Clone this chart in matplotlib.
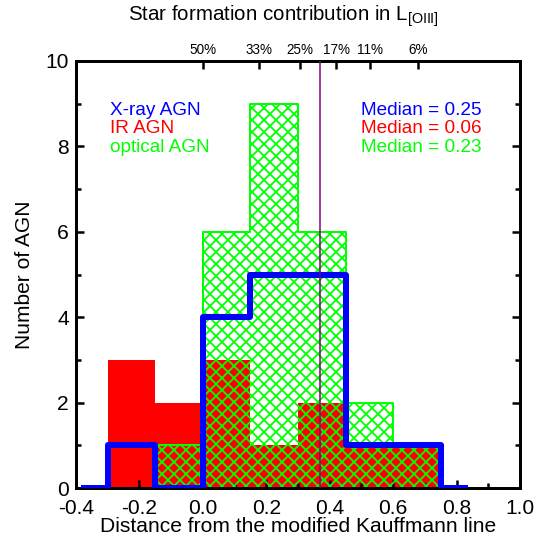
import numpy as np
import matplotlib
matplotlib.use('Agg')
import matplotlib.pyplot as plt
from matplotlib.ticker import MultipleLocator

plt.rcParams['font.family'] = ['Liberation Sans', 'DejaVu Sans']
plt.rcParams['mathtext.fontset'] = 'custom'
plt.rcParams['mathtext.rm'] = 'Liberation Sans'
plt.rcParams['hatch.linewidth'] = 1.8

# bordes de bins (ancho 0.15)
edges = np.array([-0.3, -0.15, 0.0, 0.15, 0.3, 0.45, 0.6, 0.75])
ir_counts = [3, 2, 3, 1, 2, 1, 1]
opt_counts = [0, 1, 6, 9, 6, 2, 1]
# rayos X: centros de bin, incluye bins vacios en los extremos
xray_centers = [-0.375, -0.225, -0.075, 0.075, 0.225, 0.375, 0.525, 0.675, 0.825]
xray_counts = [0, 1, 0, 4, 5, 5, 1, 1, 0]

median_line = 0.37
top_pos = [0.0, 0.177, 0.306, 0.42, 0.527, 0.678]
top_labels = ['50%', '33%', '25%', '17%', '11%', '6%']

fig = plt.figure(figsize=(536/72, 546/72), dpi=72)
ax = fig.add_axes([76/536, 58/546, 444/536, 427/546])

# IR AGN relleno rojo
ax.stairs(ir_counts, edges, fill=True, color='red', zorder=1)
# AGN opticos con achurado verde
ax.fill_between(edges, np.append(opt_counts, opt_counts[-1]), step='post',
                facecolor='none', edgecolor='lime', hatch='xx', linewidth=2, zorder=2)
# AGN de rayos X
ax.step(xray_centers, xray_counts, where='mid', color='blue', linewidth=6, zorder=3)
ax.axvline(median_line, color='purple', linewidth=1.5, zorder=4)

ax.set_xlim(-0.4, 1.0)
ax.set_ylim(0, 10)
ax.xaxis.set_major_locator(MultipleLocator(0.2))
ax.xaxis.set_minor_locator(MultipleLocator(0.1))
ax.yaxis.set_major_locator(MultipleLocator(2))
ax.yaxis.set_minor_locator(MultipleLocator(1))
ax.xaxis.set_major_formatter(plt.FuncFormatter(lambda v, p: f'{v:.1f}'))
ax.tick_params(which='both', direction='in', width=2.5, labelsize=21,
               top=False, right=True)
ax.tick_params(axis='x', pad=11)
ax.tick_params(axis='y', pad=7)
ax.tick_params(which='major', length=8)
ax.tick_params(which='minor', length=5)
for s in ax.spines.values():
    s.set_linewidth(3)

ax.set_xlabel('Distance from the modified Kauffmann line', fontsize=21, labelpad=-1)
ax.set_ylabel('Number of AGN', fontsize=21, labelpad=12)

# eje superior con contribucion de formacion estelar
ax2 = ax.twiny()
ax2.set_xlim(ax.get_xlim())
ax2.set_xticks(top_pos)
ax2.set_xticklabels(top_labels)
ax2.tick_params(direction='in', length=8, width=2.5, labelsize=13.5, pad=4)
for s in ax2.spines.values():
    s.set_visible(False)

fig.text(283/536, 1 - 16/546, r'Star formation contribution in L$_{\rm [OIII]}$',
         ha='center', va='center', fontsize=20.5)

ax.text(0.077, 0.884, 'X-ray AGN', color='blue', fontsize=19, transform=ax.transAxes, va='center')
ax.text(0.077, 0.841, 'IR AGN', color='red', fontsize=19, transform=ax.transAxes, va='center')
ax.text(0.077, 0.797, 'optical AGN', color='lime', fontsize=19, transform=ax.transAxes, va='center')
ax.text(0.914, 0.884, 'Median = 0.25', color='blue', fontsize=19, transform=ax.transAxes, va='center', ha='right')
ax.text(0.914, 0.841, 'Median = 0.06', color='red', fontsize=19, transform=ax.transAxes, va='center', ha='right')
ax.text(0.914, 0.797, 'Median = 0.23', color='lime', fontsize=19, transform=ax.transAxes, va='center', ha='right')

plt.savefig('out.png', dpi=72)
